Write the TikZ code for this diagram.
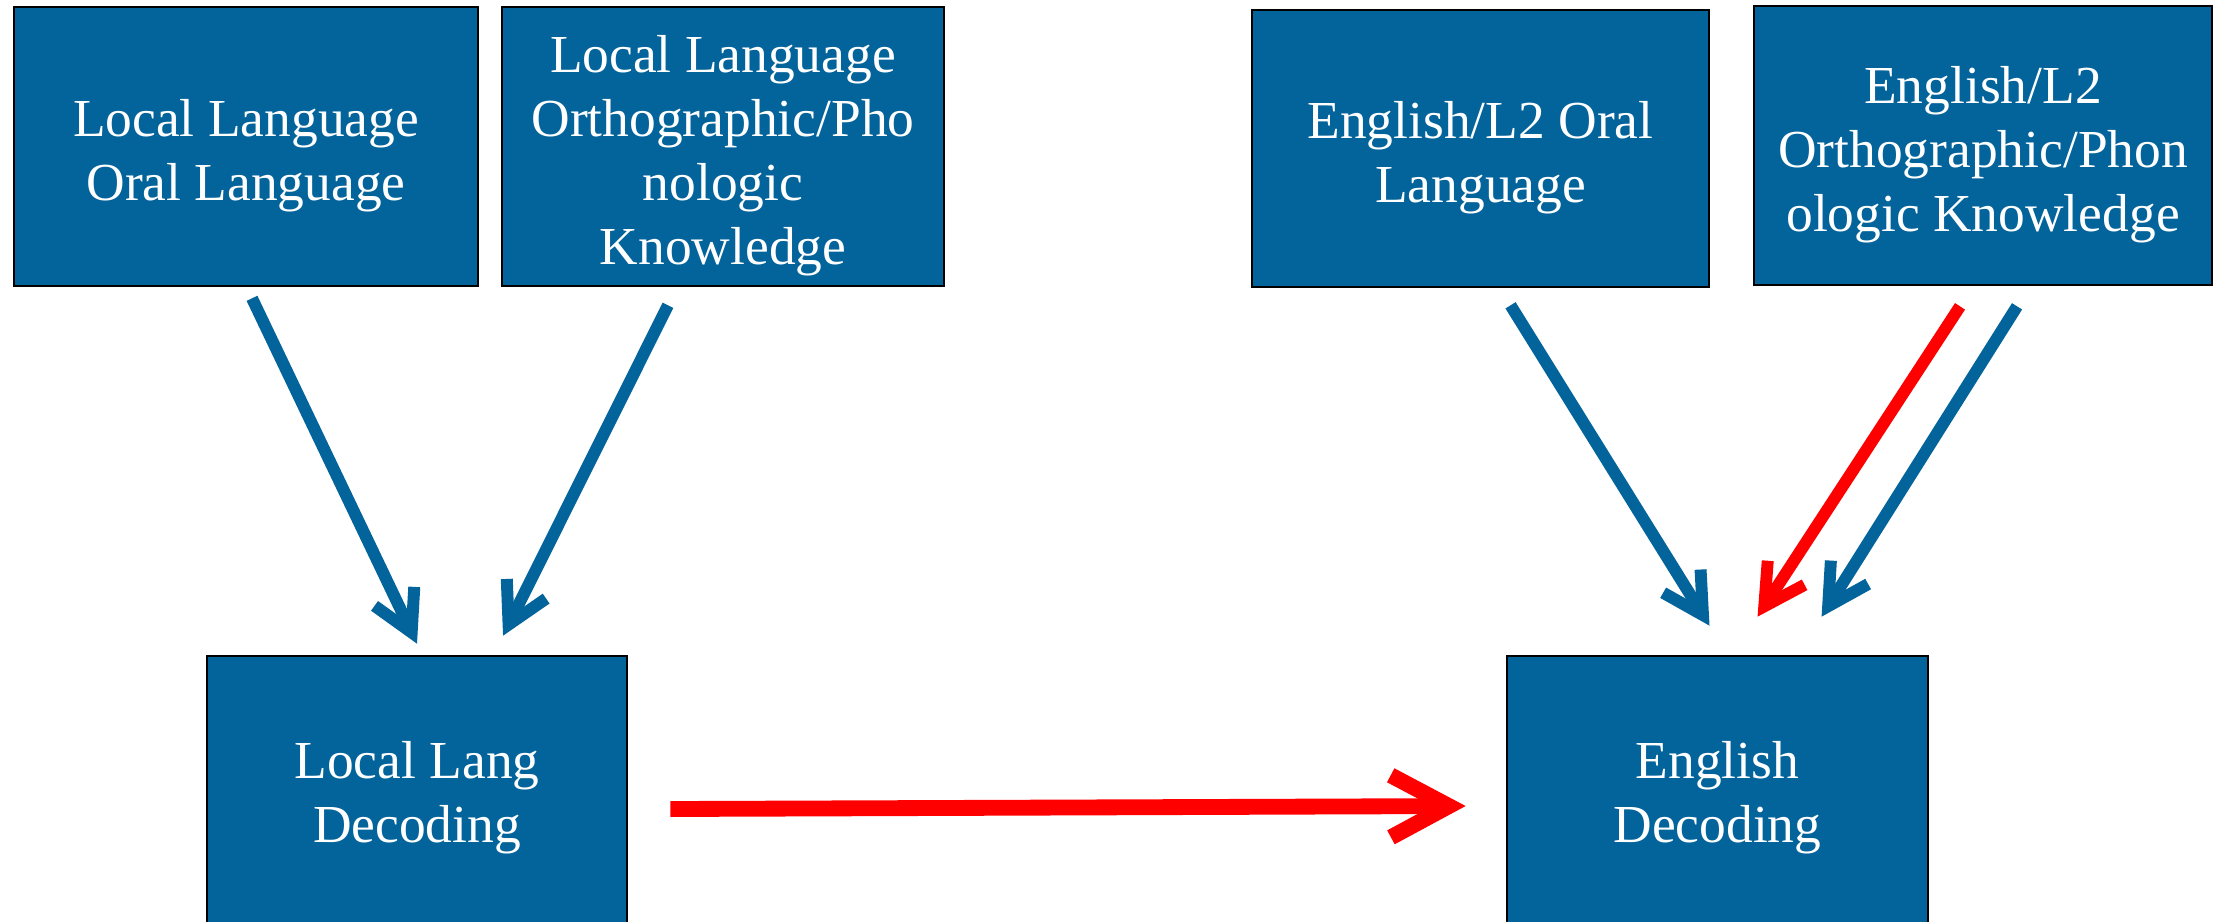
\documentclass[tikz,border=0pt]{standalone}
\usepackage{fontspec}
\setmainfont{Liberation Serif}
\usetikzlibrary{arrows.meta}
\definecolor{boxblue}{RGB}{3,99,155}
\definecolor{linkred}{RGB}{255,0,0}
\newcommand\topgap{\rule{0pt}{15.8pt}}

\begin{document}
\begin{tikzpicture}[x=0.01cm,y=-0.01cm,
  box/.style={draw=black,line width=0.7pt,fill=boxblue,text=white,
    align=center,inner sep=0pt,font=\fontsize{15.2}{18.2}\selectfont},
  topbox/.style={box,minimum height=2.79cm},
  bluelink/.style={draw=boxblue,line width=3.4pt,
    -{Straight Barb[length=4mm,width=4.4mm]}},
  redlink/.style={draw=linkred,line width=3.4pt,
    -{Straight Barb[length=4mm,width=4.4mm]}},
  transfer/.style={draw=linkred,line width=4.5pt,
    -{Straight Barb[length=5.8mm,width=6.2mm]}}]
  \useasboundingbox (0,0) rectangle (2219,921);
  \clip (0,0) rectangle (2219,921);

  % top row
  \node [topbox,minimum width=4.64cm] (LLoral) at (246,146.5)
        {\topgap Local Language\\Oral Language};
  \node [topbox,minimum width=4.42cm] (LLortho) at (723,146.5)
        {\topgap Local Language\\Orthographic/Pho\\nologic\\Knowledge};
  \node [topbox,minimum width=4.57cm,minimum height=2.77cm] (ENoral) at (1480.5,148.5)
        {\topgap English/L2 Oral\\Language};
  \node [topbox,minimum width=4.58cm] (ENortho) at (1983,145.5)
        {\topgap English/L2\\Orthographic/Phon\\ologic Knowledge};

  % bottom row
  \node [box,minimum width=4.20cm,minimum height=2.84cm] (LLdec) at (417,798)
        {Local Lang\\Decoding};
  \node [box,minimum width=4.21cm,minimum height=2.84cm] (ENdec) at (1717.5,798)
        {English\\Decoding};

  \draw [bluelink] ([xshift=0.06cm,yshift=-0.11cm]LLoral.south)
        -- ([yshift=0.11cm]LLdec.north);
  \draw [bluelink] ([xshift=-0.55cm,yshift=-0.18cm]LLortho.south)
        -- ([xshift=0.86cm,yshift=0.19cm]LLdec.north);
  \draw [bluelink] ([xshift=0.30cm,yshift=-0.17cm]ENoral.south)
        -- ([xshift=-0.08cm,yshift=0.29cm]ENdec.north);
  \draw [redlink] ([xshift=-0.23cm,yshift=-0.20cm]ENortho.south)
        -- ([xshift=0.40cm,yshift=0.38cm]ENdec.north);
  \draw [bluelink] ([xshift=0.34cm,yshift=-0.20cm]ENortho.south)
        -- ([xshift=1.04cm,yshift=0.38cm]ENdec.north);

  \draw [transfer] ([xshift=0.42cm,yshift=-0.11cm]LLdec.east)
        -- ([xshift=-0.40cm,yshift=-0.08cm]ENdec.west);
\end{tikzpicture}
\end{document}
